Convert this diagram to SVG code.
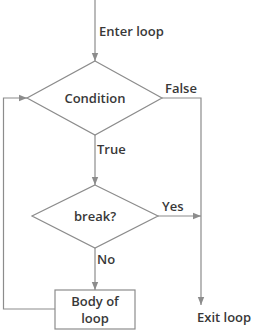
<svg xmlns="http://www.w3.org/2000/svg" width="255" height="333" viewBox="0 0 255 333">
<style>
.ln{fill:none;stroke:#8c8c8c;stroke-width:1.2}
.sh{fill:#fff;stroke:#8c8c8c;stroke-width:1.2}
text{font-family:"Open Sans","DejaVu Sans",sans-serif;font-weight:600;font-size:13px;fill:#383838}
.c{text-anchor:middle}
</style>
<defs>
<marker id="ah" markerWidth="8" markerHeight="8" refX="8" refY="4" orient="auto" markerUnits="userSpaceOnUse">
<path d="M0,0.8 L8,4 L0,7.2 Z" fill="#8c8c8c"/>
</marker>
</defs>
<rect width="255" height="333" fill="#fff"/>
<g id="connectors">
<path class="ln" d="M95,0 V61" marker-end="url(#ah)"/>
<path class="ln" d="M162,98 H201 V305" marker-end="url(#ah)"/>
<path class="ln" d="M95,135 V185" marker-end="url(#ah)"/>
<path class="ln" d="M158,216 H201" marker-end="url(#ah)"/>
<path class="ln" d="M95,248 V290" marker-end="url(#ah)"/>
<path class="ln" d="M55,309 H3.5 V98 H27" marker-end="url(#ah)"/>
<text x="99" y="36">Enter loop</text>
<text x="165" y="93">False</text>
<text x="97" y="154">True</text>
<text x="162" y="211">Yes</text>
<text x="97" y="264">No</text>
<text x="197" y="322">Exit loop</text>
</g>
<g id="condition">
<polygon class="sh" points="95,61 162,98 95,135 27,98"/>
<text class="c" x="95" y="103">Condition</text>
</g>
<g id="break">
<polygon class="sh" points="95,185 158,216 95,248 32,216"/>
<text class="c" x="95" y="221">break?</text>
</g>
<g id="body">
<rect class="sh" x="55" y="290" width="80" height="39"/>
<text class="c" x="95" y="306">Body of</text>
<text class="c" x="95" y="323">loop</text>
</g>
</svg>
